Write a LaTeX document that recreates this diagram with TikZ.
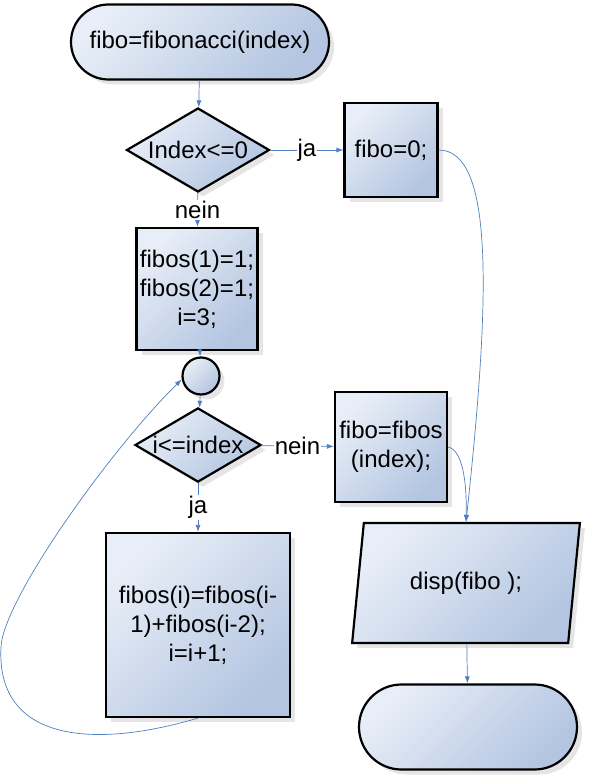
\documentclass[tikz,border=0pt]{standalone}
\usepackage{fontspec}
\setmainfont{Liberation Sans}
\usetikzlibrary{shapes.geometric,shapes.misc,shadows,arrows.meta}
\definecolor{boxlight}{HTML}{E8EEF7}
\definecolor{boxdark}{HTML}{B3C5E1}
\definecolor{flowline}{HTML}{4F7FBF}
\begin{document}
\begin{tikzpicture}[x=1pt,y=-1pt,inner sep=0.1em,
    font=\fontsize{24}{29}\selectfont,
    >={Latex[length=7pt,width=5pt]},
    flowbox/.style={draw,line width=2.2pt,top color=boxlight,bottom color=boxdark,shading angle=45,
      drop shadow={shadow xshift=5pt,shadow yshift=-5pt,fill=black!10,opacity=1},align=center},
    flowarrow/.style={->,draw=flowline,line width=0.7pt}]
    \useasboundingbox (0,0) rectangle (589,781);
    %flow nodes
    \node (Start) at (200,42) [flowbox,rounded rectangle,minimum width=260pt,minimum height=75pt]{fibo=fibonacci(index)};
    \node (Q1) at (198,150) [flowbox,diamond,aspect=1.7,inner sep=1pt,minimum width=143pt,minimum height=84pt]{Index<=0};
    \node (Zero) at (391,150) [flowbox,minimum width=93pt,minimum height=94pt]{fibo=0;};
    \node (Init) at (197,289) [flowbox,minimum width=121pt,minimum height=122pt]{fibos(1)=1;\\fibos(2)=1;\\i=3;};
    \node (Join) at (201,376) [flowbox,circle,minimum size=37pt]{};
    \node (Q2) at (198,445) [flowbox,diamond,aspect=1.7,inner sep=1pt,minimum width=124pt,minimum height=74pt]{i<=index};
    \node (Res) at (391,447) [flowbox,minimum width=112pt,minimum height=110pt]{fibo=fibos\\(index);};
    \node (Body) at (198,625) [flowbox,minimum width=184pt,minimum height=184pt]{fibos(i)=fibos(i-\\1)+fibos(i-2);\\i=i+1;};
    \node (Out) at (466,583) [flowbox,trapezium,trapezium left angle=75,trapezium right angle=105,
      trapezium stretches=true,minimum width=228pt,minimum height=120pt]{disp(fibo );};
    \node (End) at (468,727) [flowbox,rounded rectangle,minimum width=220pt,minimum height=85pt]{};

    \draw [flowarrow] (Start) -- (Q1);
    \draw [flowarrow] (Q1) -- (Zero) node[midway,fill=white] {ja};
    \draw [flowarrow] (Q1) -- (Init) node[midway,fill=white] {nein};
    \draw [flowarrow] (Init) -- (Join);
    \draw [flowarrow] (Join) -- (Q2);
    \draw [flowarrow] (Q2) -- (Res) node[midway,fill=white] {nein};
    \draw [flowarrow] (Q2) -- (Body) node[midway,fill=white] {ja};
    \draw [flowarrow] (Zero.east) .. controls (495,150) and (490,300) .. (Out.north);
    \draw [flowarrow] (Res.east) .. controls (462,450) and (467,480) .. (Out.north);
    \draw [flowarrow] (Out) -- (End);
    %loop back
    \draw [flowarrow] (Body.south) .. controls (90,750) and (-4,740) .. (1,647)
      .. controls (3,600) and (110,450) .. (Join.190);
\end{tikzpicture}
\end{document}
